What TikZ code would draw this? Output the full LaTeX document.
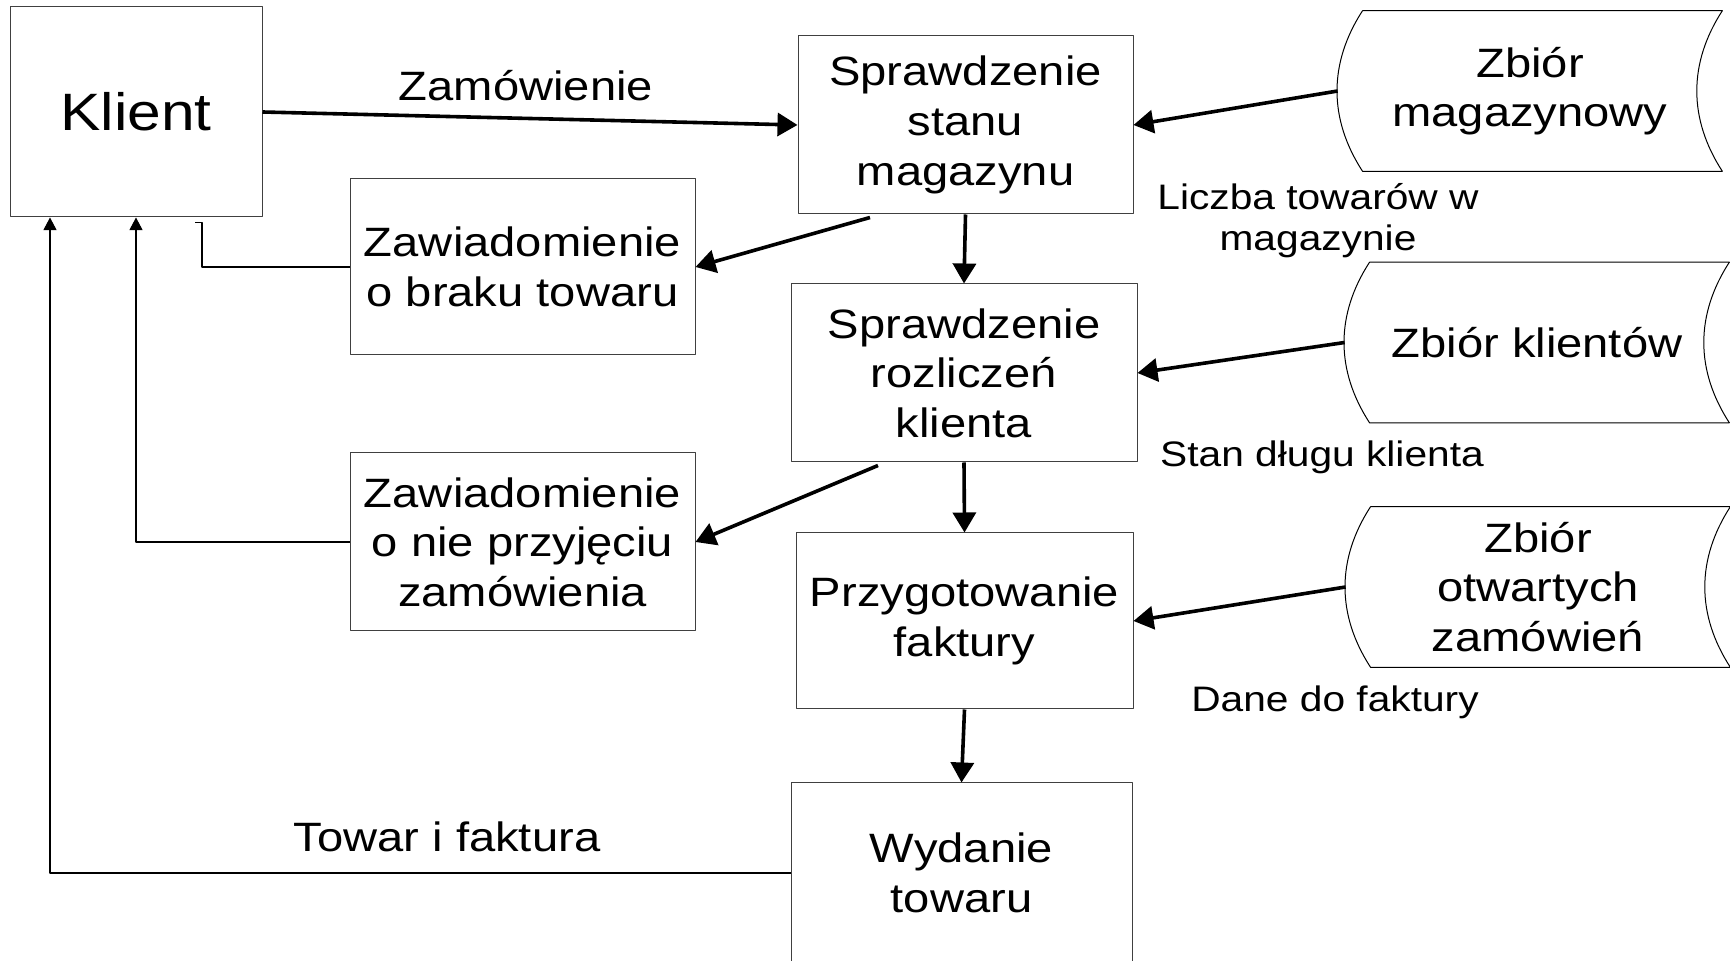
\documentclass[tikz,border=0pt]{standalone}
\usepackage{fontspec}
\setmainfont{Liberation Sans}[FakeStretch=1.15]
\usetikzlibrary{arrows.meta}
\newcommand\boxfont{\fontsize{20.5}{24.8}\selectfont}
\newcommand\klientfont{\fontsize{26.3}{30}\selectfont}
\newcommand\labfont{\fontsize{17.7}{20.4}\selectfont}
\tikzset{
  proc/.style={draw=black!75, line width=0.5pt, minimum height=88pt, align=center, inner sep=0pt, font=\boxfont},
  store/.style={minimum width=179.5pt, minimum height=80pt, align=center, inner sep=0pt, font=\boxfont},
  flow/.style={line width=1.8pt, -{Triangle[length=10pt,width=11.5pt]}},
  back/.style={line width=0.6pt, -{Triangle[length=6.3pt,width=6.5pt]}},
  lab/.style={align=center, inner sep=0pt, font=\labfont}
}

\begin{document}
\begin{tikzpicture}[x=0.5pt, y=-0.5pt, line join=bevel]
  \useasboundingbox (0,0) rectangle (1730,961);
  \clip (0,0) rectangle (1730,961);
  \node[proc, minimum width=126pt, minimum height=105pt, font=\klientfont] (klient) at (136,112) {Klient};
  \node[proc, minimum width=167.5pt, minimum height=89pt] (stan) at (965.5,125) {Sprawdzenie\\stanu\\magazynu};
  \node[proc, minimum width=172.5pt] (braku) at (522.5,267) {Zawiadomienie\\o braku towaru};
  \node[proc, minimum width=173pt, minimum height=89pt] (rozl) at (964,373) {Sprawdzenie\\rozliczeń\\klienta};
  \node[proc, minimum width=172.5pt, minimum height=89pt] (nieprz) at (522.5,542) {Zawiadomienie\\o nie przyjęciu\\zamówienia};
  \node[proc, minimum width=168.5pt] (faktura) at (964.5,621) {Przygotowanie\\faktury};
  \node[proc, minimum width=170.5pt, minimum height=90pt] (wydanie) at (961.5,873) {Wydanie\\towaru};

  \node[store] (mag) at (1530,91) {Zbiór\\magazynowy};
  \node[store] (kli) at (1537,342.5) {Zbiór klientów};
  \node[store] (otw) at (1538,587) {Zbiór\\otwartych\\zamówień};
  \foreach \s in {mag,kli,otw}
    \draw[line width=0.5pt] ([xshift=6.25pt]\s.north west) -- ([xshift=6.25pt]\s.north east)
      to[bend right=33] ([xshift=6.25pt]\s.south east) -- ([xshift=6.25pt]\s.south west)
      to[bend left=33] ([xshift=6.25pt]\s.north west);

  \node[font=\boxfont, inner sep=0pt] (zam) at (526,86) {Zamówienie};
  \node[font=\boxfont, inner sep=0pt] (towar) at (447,837) {Towar i faktura};
  \node[lab] (liczba) at (1318,221) {Liczba towarów w\\magazynie};
  \node[lab] (dlug) at (1322,457) {Stan długu klienta};
  \node[lab] (dane) at (1335,702) {Dane do faktury};

  \draw[flow] (klient.east) -- (stan.west);
  \draw[flow] ([xshift=-6.25pt]mag.west) -- (stan.east);
  \draw[flow] ([xshift=-47.75pt,yshift=-1.5pt]stan.south) -- (braku.east);
  \draw[flow] (stan.south) -- (rozl.north);
  \draw[flow] ([xshift=-6.25pt]kli.west) -- (rozl.east);
  \draw[flow] ([xshift=-43pt,yshift=-1.5pt]rozl.south) -- (nieprz.east);
  \draw[flow] (rozl.south) -- (faktura.north);
  \draw[flow] ([xshift=-6.25pt]otw.west) -- (faktura.east);
  \draw[flow] (faktura.south) -- (wydanie.north);

  \coordinate (stub) at ([xshift=33pt,yshift=-2.5pt]klient.south);
  \coordinate (stubend) at ([xshift=29.5pt,yshift=-2.5pt]klient.south);
  \draw[line width=0.6pt] (braku.west) -| (stub) -- (stubend);
  \draw[back] (nieprz.west) -| (klient.south);
  \draw[back] (wydanie.west) -| ([xshift=-43pt]klient.south);
\end{tikzpicture}
\end{document}
